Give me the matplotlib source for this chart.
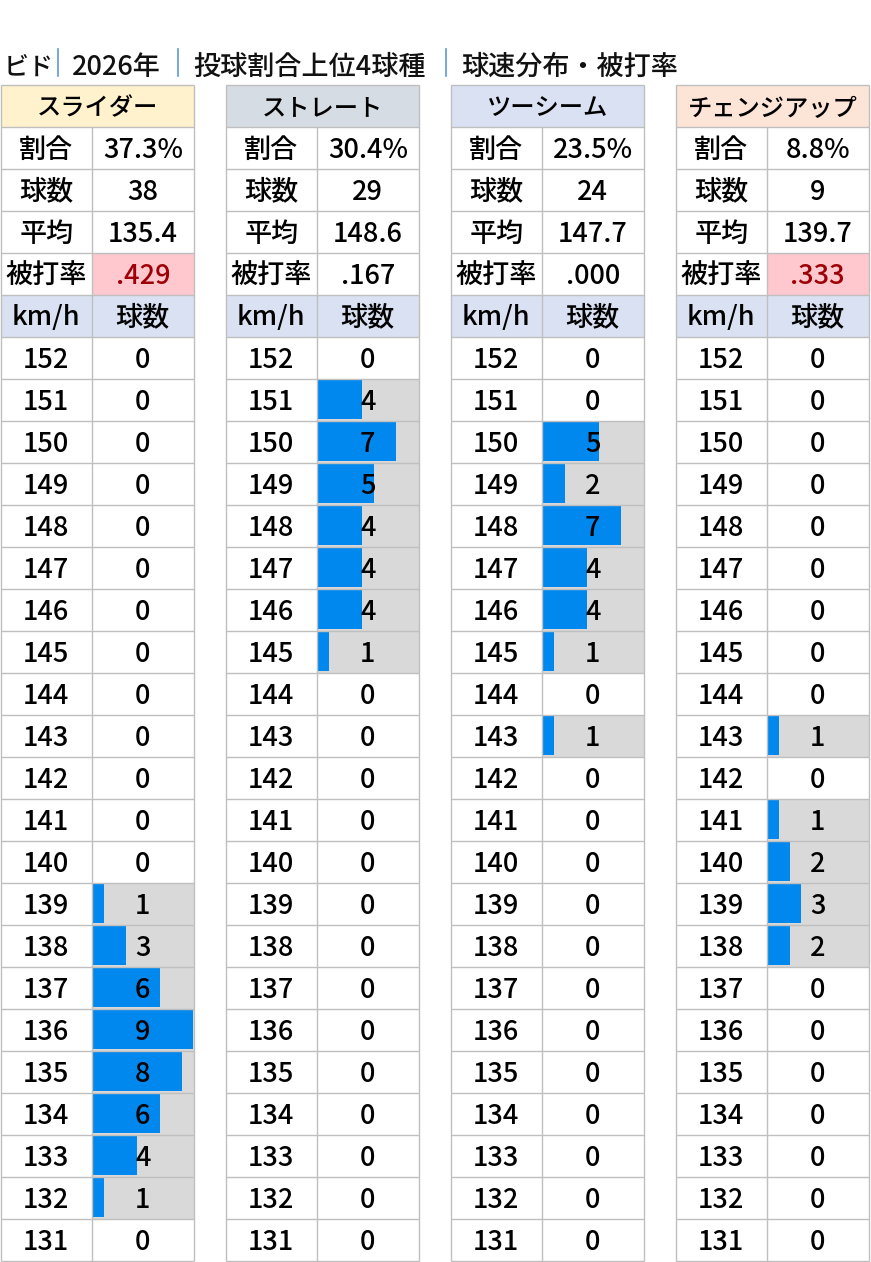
import numpy as np
import matplotlib
matplotlib.use('Agg')
import matplotlib.pyplot as plt
from matplotlib.patches import Rectangle

plt.rcParams['font.family'] = ['Noto Sans CJK JP', 'DejaVu Sans']
plt.rcParams['font.weight'] = 'medium'

## ---------------------- DATA -------------------------------
title_parts = ['ビド', '2026年', '投球割合上位4球種', '球速分布・被打率']
pitch_names = ['スライダー', 'ストレート', 'ツーシーム', 'チェンジアップ']
share = ['37.3%', '30.4%', '23.5%', '8.8%']
total = [38, 29, 24, 9]
avg_speed = [135.4, 148.6, 147.7, 139.7]
batting_avg = [0.429, 0.167, 0.000, 0.333]
speeds = list(range(152, 130, -1))

slider = [0, 0, 0, 0, 0, 0, 0, 0, 0, 0, 0, 0, 0, 1, 3, 6, 9, 8, 6, 4, 1, 0]
straight = [0, 4, 7, 5, 4, 4, 4, 1, 0, 0, 0, 0, 0, 0, 0, 0, 0, 0, 0, 0, 0, 0]
twoseam = [0, 0, 5, 2, 7, 4, 4, 1, 0, 1, 0, 0, 0, 0, 0, 0, 0, 0, 0, 0, 0, 0]
changeup = [0, 0, 0, 0, 0, 0, 0, 0, 0, 1, 0, 1, 2, 3, 2, 0, 0, 0, 0, 0, 0, 0]
counts = [slider, straight, twoseam, changeup]

## ---------------------- STYLE -------------------------------
header_colors = ['#FFF2CC', '#D6DCE4', '#D9E1F2', '#FCE4D6']
sub_header_color = '#D9E1F2'
bar_color = '#0088EE'
range_color = '#D9D9D9'
grid_color = '#BFBFBF'
hi_fill, hi_text = '#FFC7CE', '#9C0006'
fs = 19.5

W, H = 871, 1262
table_left0, table_step = 1, 225
col1_w, col2_w = 90.5, 102.5
top, row_h = 84.5, 42

fig = plt.figure(figsize=(W / 100, H / 100), dpi=100)
ax = fig.add_axes([0, 0, 1, 1])
ax.set_xlim(0, W)
ax.set_ylim(H, 0)
ax.axis('off')

## ---------------------- TITLE -------------------------------
title_x = [4, 72, 193, 461]
title_fs = [18, fs, fs, fs]
for x, t, s in zip(title_x, title_parts, title_fs):
    ax.text(x, 75, t, fontsize=s, va='baseline', ha='left', color='#111111')
for x in [58, 178, 446]:
    ax.plot([x, x], [49, 76], color='#5B9BD5', lw=1.2)


def cell_text(x, row, s, color='black', size=fs):
    ax.text(x, top + row * row_h + 31, s, fontsize=size, ha='center',
            va='baseline', color=color)


vmax = max(max(c) for c in counts)
n_rows = 6 + len(speeds)

for i in range(len(pitch_names)):
    left = table_left0 + i * table_step
    split = left + col1_w
    right = split + col2_w
    c1 = (left + split) / 2
    c2 = (split + right) / 2

    # fills
    ax.add_patch(Rectangle((left, top), right - left, row_h,
                           color=header_colors[i], lw=0))
    ax.add_patch(Rectangle((left, top + 5 * row_h), right - left, row_h,
                           color=sub_header_color, lw=0))
    hi = batting_avg[i] >= 0.3
    if hi:
        ax.add_patch(Rectangle((split, top + 4 * row_h), col2_w, row_h,
                               color=hi_fill, lw=0))

    # speed bars
    cnt = np.array(counts[i])
    ys = top + (6 + np.arange(len(speeds)) + 0.5) * row_h
    mask = cnt > 0
    ax.barh(ys[mask], col2_w, left=split, height=row_h, color=range_color, lw=0)
    ax.barh(ys[mask], cnt[mask] / vmax * (col2_w - 2.5), left=split + 1.5,
            height=row_h - 3, color=bar_color, lw=0)

    # texts
    cell_text((left + right) / 2, 0, pitch_names[i], size=17.5)
    cell_text(c1, 1, '割合')
    cell_text(c2, 1, share[i])
    cell_text(c1, 2, '球数')
    cell_text(c2, 2, str(total[i]))
    cell_text(c1, 3, '平均')
    cell_text(c2, 3, f'{avg_speed[i]:.1f}')
    cell_text(c1, 4, '被打率')
    cell_text(c2, 4, f'{batting_avg[i]:.3f}'[1:], hi_text if hi else 'black')
    cell_text(c1, 5, 'km/h')
    cell_text(c2, 5, '球数')
    for r, (sp, n) in enumerate(zip(speeds, cnt)):
        cell_text(c1, 6 + r, str(sp))
        cell_text(c2, 6 + r, str(n))

    # grid
    bottom = top + n_rows * row_h
    ax.vlines([left, right], top, bottom, color=grid_color, lw=1)
    ax.vlines(split, top + row_h, bottom, color=grid_color, lw=1)
    ax.hlines(top + np.arange(n_rows + 1) * row_h, left, right,
              color=grid_color, lw=1)

fig.savefig('out.png', dpi=100)
